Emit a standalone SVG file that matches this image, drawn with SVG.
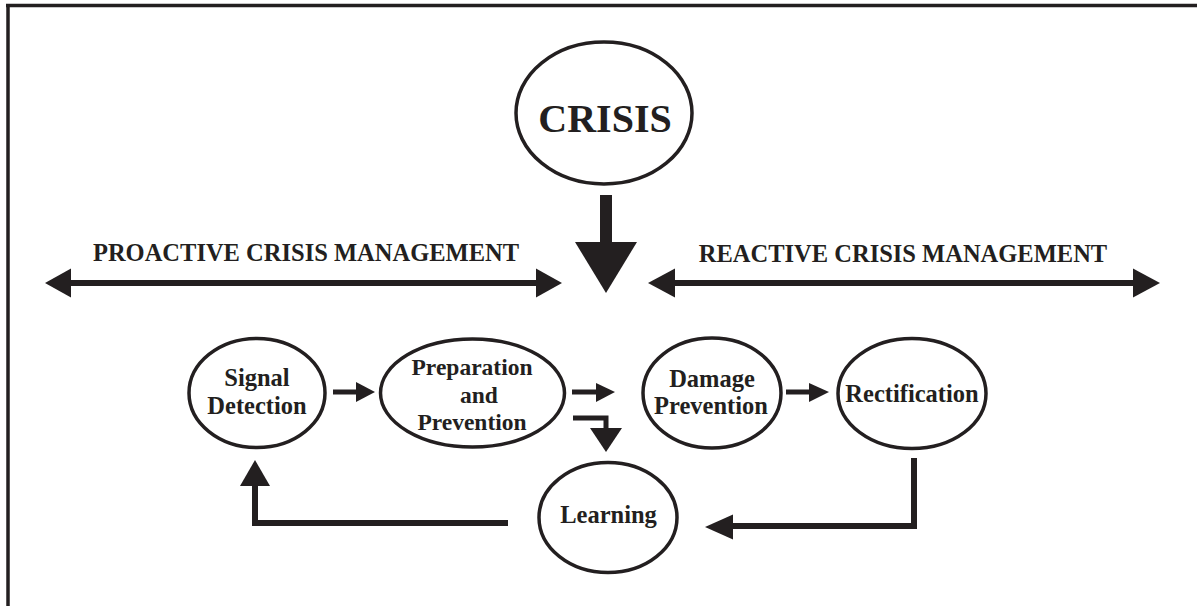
<svg xmlns="http://www.w3.org/2000/svg" width="1197" height="606" viewBox="0 0 1197 606">
<style>
.node ellipse{fill:#fff;stroke:#231f20;stroke-width:3.5}
text{font-family:"Liberation Serif","Times New Roman",serif;font-weight:bold;fill:#231f20;text-anchor:middle}
.lbl{font-size:24.5px}
.ln{fill:none;stroke:#231f20;stroke-width:6}
.thin{fill:none;stroke:#231f20;stroke-width:5}
.hd{fill:#231f20}
</style>
<rect width="1197" height="606" fill="#fff"/>
<g id="frame">
<line x1="6" y1="5.5" x2="1197" y2="5.5" stroke="#231f20" stroke-width="3.5"/>
<line x1="8" y1="4" x2="8" y2="606" stroke="#231f20" stroke-width="3.5"/>
</g>
<g id="crisis" class="node">
<ellipse cx="604" cy="113" rx="88" ry="71"/>
<text x="605" y="132" font-size="40">CRISIS</text>
</g>
<g id="proactive-label"><text class="lbl" x="306" y="261">PROACTIVE CRISIS MANAGEMENT</text></g>
<g id="reactive-label"><text class="lbl" x="903" y="262">REACTIVE CRISIS MANAGEMENT</text></g>
<g id="signal" class="node">
<ellipse cx="257" cy="393" rx="68" ry="54.5"/>
<text class="lbl" x="257" y="386">Signal</text>
<text class="lbl" x="257" y="414">Detection</text>
</g>
<g id="preparation" class="node">
<ellipse cx="472.5" cy="393" rx="92" ry="54"/>
<text x="472" y="375" font-size="23.5">Preparation</text>
<text x="479" y="402.5" font-size="23.5">and</text>
<text x="472" y="430" font-size="23.5">Prevention</text>
</g>
<g id="damage" class="node">
<ellipse cx="712" cy="393" rx="69" ry="55"/>
<text class="lbl" x="712" y="387">Damage</text>
<text class="lbl" x="711" y="414">Prevention</text>
</g>
<g id="rectification" class="node">
<ellipse cx="912" cy="393.5" rx="74" ry="55"/>
<text class="lbl" x="912" y="402">Rectification</text>
</g>
<g id="learning" class="node">
<ellipse cx="608" cy="517.5" rx="69" ry="55"/>
<text class="lbl" x="608.5" y="523">Learning</text>
</g>
<g id="connectors">
<!-- crisis down arrow -->
<rect x="600" y="195" width="12" height="48" class="hd"/>
<polygon class="hd" points="575,242 637,242 606,293"/>
<!-- proactive double arrow -->
<line class="ln" x1="68" y1="283" x2="540" y2="283"/>
<polygon class="hd" points="45,283 71,268.5 71,297.5"/>
<polygon class="hd" points="562,283 536,268.5 536,297.5"/>
<!-- reactive double arrow -->
<line class="ln" x1="672" y1="283" x2="1137" y2="283"/>
<polygon class="hd" points="648,283 675,268.5 675,297.5"/>
<polygon class="hd" points="1160,283 1133,268.5 1133,297.5"/>
<!-- signal -> preparation -->
<line class="thin" x1="333" y1="392" x2="358" y2="392"/>
<polygon class="hd" points="375,392 356,382 356,402"/>
<!-- preparation -> damage -->
<line class="thin" x1="572" y1="392" x2="598" y2="392"/>
<polygon class="hd" points="615,392 596,383 596,402"/>
<!-- preparation -> learning (bent) -->
<path class="thin" d="M573,418 H606 V429"/>
<polygon class="hd" points="590,428 622,428 606,452"/>
<!-- damage -> rectification -->
<line class="thin" x1="786" y1="392" x2="811" y2="392"/>
<polygon class="hd" points="829,392 809,383 809,402"/>
<!-- rectification -> learning -->
<path class="ln" d="M914,458 V526 H730"/>
<polygon class="hd" points="705,527 733,514.5 733,539.5"/>
<!-- learning -> signal -->
<path class="ln" d="M508,523 H255 V483"/>
<polygon class="hd" points="255,460 240,486 270,486"/>
</g>
</svg>
